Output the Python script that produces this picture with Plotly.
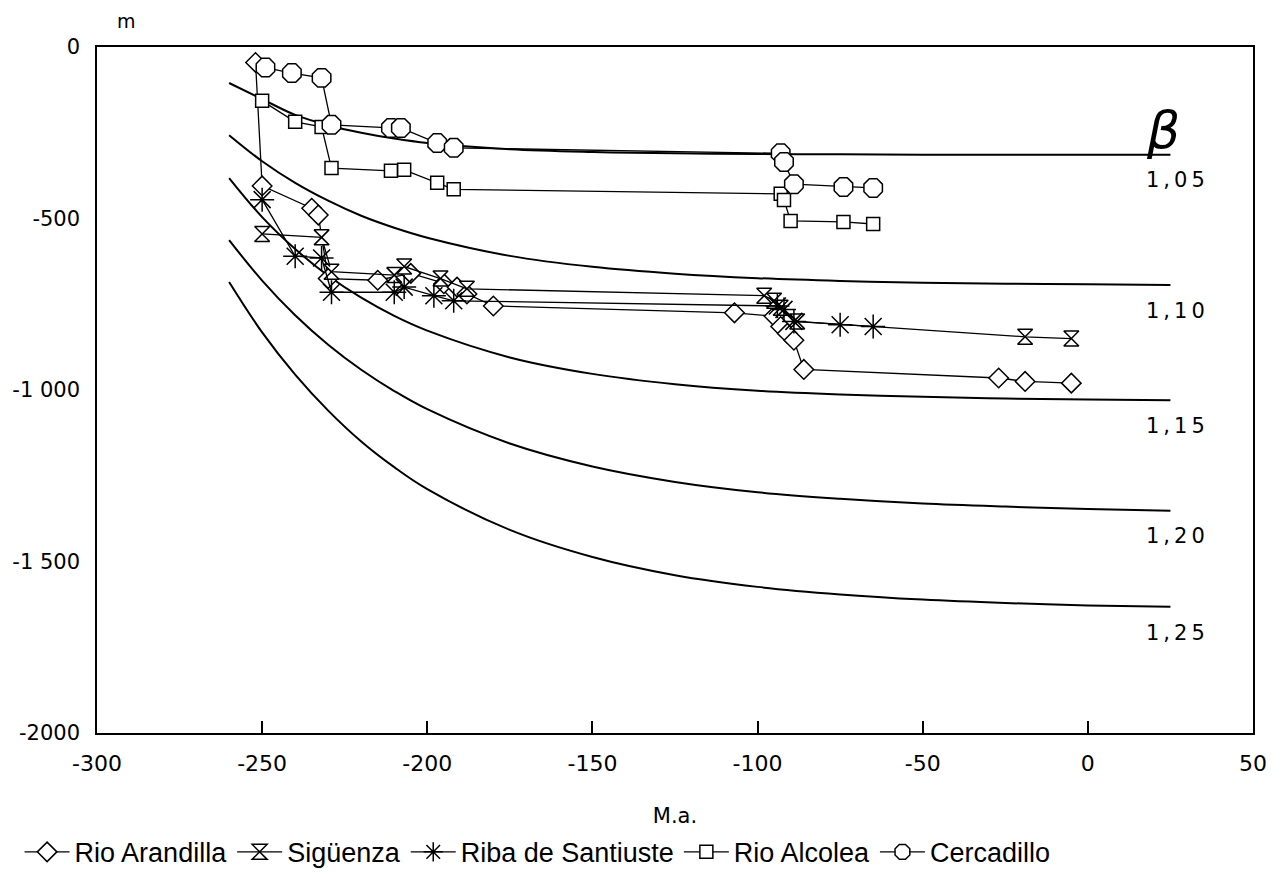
import plotly.graph_objects as go

# ---- beta curves ----
beta_labels = ["1,05", "1,10", "1,15", "1,20", "1,25"]
beta_x = [-260, -250, -240, -230, -220, -210, -200, -175, -150, -125, -100, -75, -50, -25, 0, 25]
beta_y = {
    "1,05": [-105, -152, -198, -228, -250, -267, -280, -298, -306, -310, -312, -313, -314, -314, -314, -314],
    "1,10": [-257, -333, -396, -448, -492, -527, -556, -609, -641, -661, -674, -682, -687, -690, -692, -694],
    "1,15": [-382, -496, -589, -667, -731, -784, -827, -905, -953, -983, -1002, -1013, -1020, -1025, -1028, -1030],
    "1,20": [-563, -681, -782, -868, -941, -1003, -1056, -1156, -1223, -1268, -1298, -1317, -1331, -1340, -1347, -1352],
    "1,25": [-685, -832, -955, -1060, -1150, -1225, -1289, -1408, -1487, -1540, -1574, -1596, -1611, -1621, -1628, -1632],
}

# ---- series ----
arandilla_x = [-252, -250, -235, -233, -230, -215, -205, -195, -191, -188, -180, -107, -95, -93, -91, -89, -86, -27, -19, -5]
arandilla_y = [-45, -405, -470, -490, -675, -680, -660, -690, -700, -720, -755, -775, -785, -815, -835, -855, -940, -965, -975, -980]

siguenza_x = [-250, -232, -229, -210, -207, -196, -188, -98, -95, -93, -88, -19, -5]
siguenza_y = [-545, -555, -655, -665, -640, -675, -705, -725, -740, -760, -800, -845, -850]

riba_x = [-250, -240, -232, -229, -210, -207, -198, -192, -94, -92, -89, -75, -65]
riba_y = [-445, -610, -615, -715, -715, -700, -725, -740, -755, -765, -800, -810, -815]

alcolea_x = [-250, -240, -232, -229, -211, -207, -197, -192, -93, -92, -90, -74, -65]
alcolea_y = [-157, -218, -233, -353, -361, -358, -396, -415, -428, -446, -507, -510, -516]

cercadillo_x = [-249, -241, -232, -229, -211, -208, -197, -192, -93, -92, -89, -74, -65]
cercadillo_y = [-60, -76, -90, -227, -236, -236, -280, -294, -310, -335, -400, -408, -411]

x_ticks = [-300, -250, -200, -150, -100, -50, 0, 50]
x_ticktext = ["-300", "-250", "-200", "-150", "-100", "-50", "0", "50"]
y_ticks = [-2000, -1500, -1000, -500, 0]
y_ticktext = ["-2000", "-1 500", "-1 000", "-500", "0"]

FONT = "DejaVu Sans"
LFONT = "Liberation Sans"

fig = go.Figure()

for lab in beta_labels:
    fig.add_trace(go.Scatter(x=beta_x, y=beta_y[lab], mode="lines", line=dict(color="black", width=2, shape="spline"),
                             showlegend=False, hoverinfo="skip"))
    fig.add_annotation(x=27, y=beta_y[lab][-1] - 75,
                       text='<span style="letter-spacing:4px">' + lab + '</span>', showarrow=False,
                       font=dict(family=FONT, size=21, color="black"), xanchor="center", yanchor="middle")

series = [
    ("Rio Arandilla", arandilla_x, arandilla_y, "diamond", 15, "white"),
    ("Sigüenza", siguenza_x, siguenza_y, "hourglass", 15, "white"),
    ("Riba de Santiuste", riba_x, riba_y, "asterisk-open", 20, "black"),
    ("Rio Alcolea", alcolea_x, alcolea_y, "square", 13, "white"),
    ("Cercadillo", cercadillo_x, cercadillo_y, "octagon", 20, "white"),
]
for name, xs, ys, sym, sz, col in series:
    fig.add_trace(go.Scatter(
        x=xs, y=ys, mode="lines+markers", name=name,
        line=dict(color="black", width=1.3),
        marker=dict(symbol=sym, size=sz, color=col, line=dict(color="black", width=1.5)),
    ))

fig.add_annotation(x=0, y=1, xref="paper", yref="paper", xshift=29, yshift=39, text="m", showarrow=False,
                   xanchor="center", yanchor="top", font=dict(family=FONT, size=19, color="black"))
fig.add_annotation(x=0.922, y=0.879, xref="paper", yref="paper", text="<i>β</i>", showarrow=False,
                   xanchor="center", yanchor="middle", font=dict(family="DejaVu Sans", size=52, color="black"))

# browser body has an 8px margin: compensate so the plot frame lands at x 97..1253, y 47..733
fig.update_layout(
    width=1287, height=874,
    margin=dict(l=89, r=42, t=39, b=149, autoexpand=False),
    plot_bgcolor="white", paper_bgcolor="white",
    font=dict(family=FONT, size=21, color="black"),
    xaxis=dict(range=[-300, 50], tickvals=x_ticks, ticktext=x_ticktext, ticks="inside", ticklen=12,
               tickwidth=1.5, tickcolor="black", showgrid=False, zeroline=False, showline=True,
               linecolor="black", linewidth=1.5, mirror=True, ticklabelstandoff=10, automargin=False,
               tickfont=dict(family=FONT, size=22),
               title=dict(text="M.a.", font=dict(family=FONT, size=21), standoff=49)),
    yaxis=dict(range=[-2000, 0], tickvals=y_ticks, ticktext=y_ticktext, ticks="", showgrid=False,
               zeroline=False, showline=True, linecolor="black", linewidth=1.5, mirror=True,
               tickfont=dict(family=FONT, size=21), ticklabelstandoff=11, automargin=False),
    legend=dict(orientation="h", xref="container", yref="container", x=0.009, xanchor="left",
                y=0.062, yanchor="top", font=dict(family=LFONT, size=27), itemwidth=45,
                bgcolor="rgba(0,0,0,0)"),
)

fig.write_html("out.html")
